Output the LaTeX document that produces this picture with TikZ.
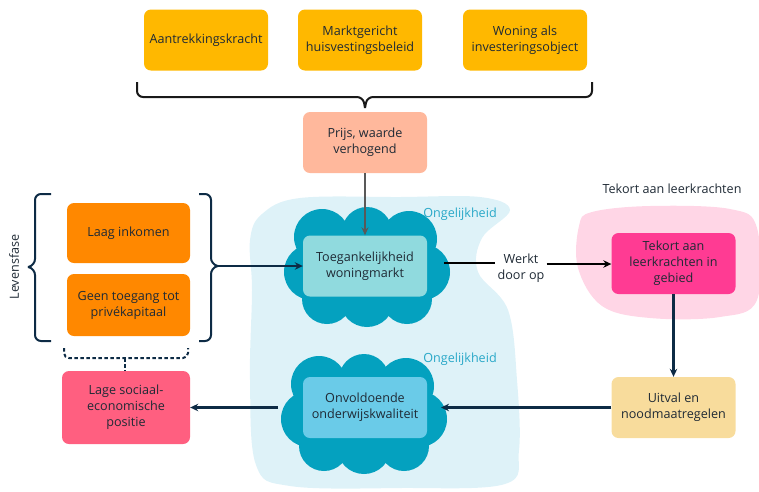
\documentclass[tikz,border=0pt]{standalone}
\usepackage{fontspec}
\setmainfont{Open Sans}
\usetikzlibrary{arrows.meta}
\definecolor{txt}{HTML}{1F2A35}
\definecolor{amber}{HTML}{FFB800}
\definecolor{salmon}{HTML}{FFB89C}
\definecolor{orng}{HTML}{FF8800}
\definecolor{rosered}{HTML}{FF5F80}
\definecolor{teal}{HTML}{04A1BF}
\definecolor{lteal}{HTML}{90DADE}
\definecolor{skyb}{HTML}{6ACBE8}
\definecolor{paleblue}{HTML}{DEF2F8}
\definecolor{hotpink}{HTML}{FF3B93}
\definecolor{palepink}{HTML}{FFD6E6}
\definecolor{gold}{HTML}{F8DC9C}
\definecolor{navy}{HTML}{0D2B45}
\definecolor{ongcol}{HTML}{29A8C8}
\tikzset{
  box/.style={rounded corners=7pt, minimum width=124pt, minimum height=61pt, align=center, text=txt, inner sep=1pt, font=\fontsize{12.6}{16}\selectfont},
  lbl/.style={text=txt, align=center, font=\fontsize{12.6}{16}\selectfont},
  arr/.style={-{Stealth[length=8pt,width=7.5pt]}, line width=2.1pt},
}
\newcommand{\mycloud}[2]{%
  \fill[teal] (#1,#2) ellipse [x radius=65pt, y radius=45pt];
  \foreach \dx/\dy/\r in {-45/-30/28, 0/-35/25, 42/-28/28, -55/5/28, 55/5/28, -40/32/25, 0/33/27, 40/32/25}
    \fill[teal] (#1+\dx,#2+\dy) circle [radius=\r pt];
}
\begin{document}
\begin{tikzpicture}[x=1pt,y=-1pt]
\useasboundingbox (0,0) rectangle (759,491);
% background blobs
\fill[paleblue] plot[smooth cycle, tension=0.6] coordinates {(262,214) (300,198) (400,197) (480,197) (510,210) (482,238) (478,272) (508,310) (517,380) (519,450) (505,484) (400,488) (290,486) (256,465) (250,380) (252,290) (250,240)};
\fill[palepink] plot[smooth cycle, tension=0.6] coordinates {(592,212) (650,206) (730,209) (757,228) (757,300) (720,317) (650,318) (602,306) (578,268) (579,226)};
% clouds
\mycloud{367}{267}
\mycloud{364}{414}
% top boxes
\node[box, fill=amber] (aan) at (206,40) {Aantrekkingskracht};
\node[box, fill=amber] (mkt) at (360,40) {Marktgericht\\huisvestingsbeleid};
\node[box, fill=amber] (won) at (525,40) {Woning als\\investeringsobject};
\node[box, fill=salmon] (prijs) at (365,142.5) {Prijs, waarde\\verhogend};
\node[box, fill=lteal] (toeg) at (365,266) {Toegankelijkheid\\woningmarkt};
\node[box, fill=skyb] (onv) at (365,407.5) {Onvoldoende\\onderwijskwaliteit};
\node[box, fill=hotpink] (tek) at (673.5,263.5) {Tekort aan\\leerkrachten in\\gebied};
\node[box, fill=gold] (uit) at (673.5,407.5) {Uitval en\\noodmaatregelen};
\node[box, fill=orng, minimum width=123pt, minimum height=60pt] (laag) at (128.5,233) {Laag inkomen};
\node[box, fill=orng, minimum width=123pt, minimum height=62pt] (geen) at (128.5,305) {Geen toegang tot\\privékapitaal};
\node[box, fill=rosered, minimum width=128pt, minimum height=73pt] (lage) at (126,407.5) {Lage sociaal-\\economische\\positie};
% labels
\node[text=ongcol, font=\fontsize{12.6}{14}\selectfont] (ong1) at (460,214) {Ongelijkheid};
\node[text=ongcol, font=\fontsize{12.6}{14}\selectfont] (ong2) at (460,359) {Ongelijkheid};
\node[lbl] (tekl) at (672,189) {Tekort aan leerkrachten};
\node[lbl, rotate=90] (lev) at (14,267) {Levensfase};
\node[lbl, inner sep=2pt] (werkt) at (521,268) {Werkt\\door op};
% top brace
\coordinate (tb) at (365,108);
\draw[line width=2pt, black!90, rounded corners=6pt] (137,82) -- (137,97) -- (363,97) -- (tb);
\draw[line width=2pt, black!90, rounded corners=6pt] (592,82) -- (592,97) -- (367,97) -- (tb);
% left brace
\draw[line width=2pt, navy, rounded corners=6pt] (51,194) -- (35,194) -- (35,265) -- (28,267);
\draw[line width=2pt, navy, rounded corners=6pt] (51,341) -- (35,341) -- (35,269) -- (28,267);
% right brace
\coordinate (rb) at (218,266);
\draw[line width=2pt, navy, rounded corners=6pt] (199,194) -- (211,194) -- (211,264) -- (rb);
\draw[line width=2pt, navy, rounded corners=6pt] (199,341) -- (211,341) -- (211,268) -- (rb);
\draw[arr, navy] (rb) -- (toeg.west |- rb);
% dashed brace
\draw[line width=2pt, navy, dash pattern=on 3.5pt off 2.5pt, rounded corners=5pt] (64,348) -- (64,358) -- (188,358) -- (188,348);
\draw[line width=2pt, navy, dash pattern=on 3.5pt off 2.5pt] (125,358) -- (lage.north -| 125,0);
% arrows
\draw[-{Stealth[length=8pt,width=7pt]}, line width=1.6pt, black!65] (prijs.south) -- (toeg.north);
\draw[line width=2pt, black] (444,263) -- (werkt.west |- 0,263);
\draw[arr, black] (werkt.east |- 0,264) -- (tek.west |- 0,264);
\draw[arr, navy] (tek.south) -- (uit.north);
\draw[arr, navy] (uit.west) -- (441,407.5);
\draw[arr, navy] (278,407.5) -- (lage.east);
\end{tikzpicture}
\end{document}
